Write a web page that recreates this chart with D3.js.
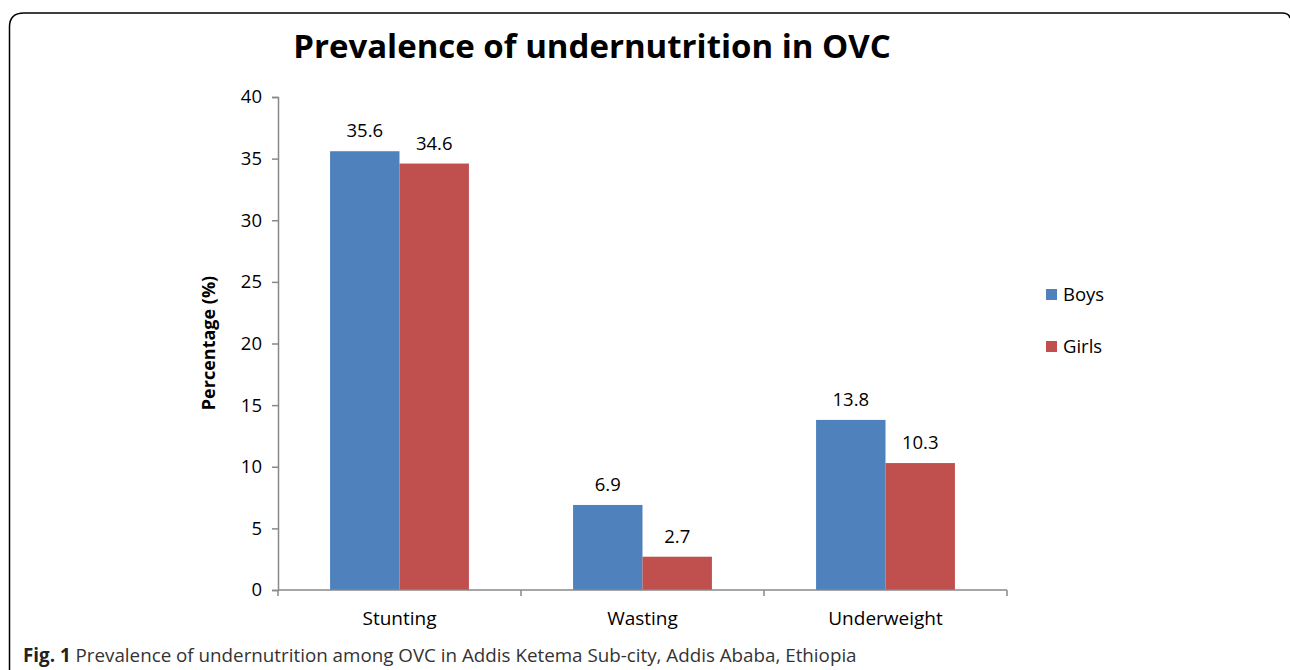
<!DOCTYPE html>
<html>
<head>
<meta charset="utf-8">
<script src="https://cdn.jsdelivr.net/npm/d3@7"></script>
<style>
  body { margin: 0; background: #fff; }
  svg { display: block; }
  text { font-family: "Open Sans", "Noto Sans", sans-serif; fill: #000; }
</style>
</head>
<body>
<svg id="chart" width="1290" height="670"></svg>
<script>
// chart data
const categories = ["Stunting", "Wasting", "Underweight"];
const seriesNames = ["Boys", "Girls"];
const boysValues = [35.6, 6.9, 13.8];
const girlsValues = [34.6, 2.7, 10.3];
const yTicks = [0, 5, 10, 15, 20, 25, 30, 35, 40];

const colors = { Boys: "#4f81bd", Girls: "#c0504d" };

const svg = d3.select("#chart");

// frame around the figure
svg.append("path")
    .attr("d", "M9.5,670 L9.5,27 Q9.5,13 24,13 L1282,13 Q1289,13 1290,18")
    .attr("fill", "none")
    .attr("stroke", "#000")
    .attr("stroke-width", 1.5);

const margin = { left: 278, top: 97, right: 1007, bottom: 590 };

const x = d3.scaleBand()
    .domain(categories)
    .range([margin.left, margin.right]);

const xInner = d3.scaleBand()
    .domain(seriesNames)
    .range([0, x.bandwidth()])
    .paddingInner(0)
    .paddingOuter(0.75);

const y = d3.scaleLinear()
    .domain([0, 40])
    .range([margin.bottom, margin.top]);

// title
svg.append("text")
    .attr("x", 592)
    .attr("y", 58)
    .attr("text-anchor", "middle")
    .style("font-size", "33px")
    .style("font-weight", "bold")
    .text("Prevalence of undernutrition in OVC");

// bars
const rows = categories.map((c, i) => ({ cat: c, Boys: boysValues[i], Girls: girlsValues[i] }));

const groups = svg.selectAll("g.cat")
    .data(rows)
    .enter()
    .append("g")
    .attr("class", "cat")
    .attr("transform", d => `translate(${x(d.cat)},0)`);

groups.selectAll("rect")
    .data(d => seriesNames.map(s => ({ s: s, v: d[s] })))
    .enter()
    .append("rect")
    .attr("x", d => xInner(d.s))
    .attr("y", d => y(d.v))
    .attr("width", xInner.bandwidth())
    .attr("height", d => y(0) - y(d.v))
    .attr("fill", d => colors[d.s]);

groups.selectAll("text.val")
    .data(d => seriesNames.map(s => ({ s: s, v: d[s] })))
    .enter()
    .append("text")
    .attr("class", "val")
    .attr("x", d => xInner(d.s) + xInner.bandwidth() / 2)
    .attr("y", d => y(d.v) - 14)
    .attr("text-anchor", "middle")
    .style("font-size", "18.5px")
    .text(d => d.v.toFixed(1));

// y axis
const yAxis = svg.append("g")
    .attr("transform", `translate(${margin.left},0)`)
    .call(d3.axisLeft(y).tickValues(yTicks).tickSize(6).tickPadding(10));
yAxis.select(".domain").attr("stroke", "#888").attr("stroke-width", 1.5);
yAxis.selectAll(".tick line").attr("stroke", "#888").attr("stroke-width", 1.5);
yAxis.selectAll(".tick text")
    .style("font-family", "'Open Sans', 'Noto Sans', sans-serif")
    .style("font-size", "18.5px")
    .attr("fill", "#000");

// x axis with ticks at category boundaries
svg.append("line")
    .attr("x1", margin.left).attr("x2", margin.right)
    .attr("y1", y(0)).attr("y2", y(0))
    .attr("stroke", "#888").attr("stroke-width", 1.5);

svg.selectAll("line.xtick")
    .data([margin.left].concat(categories.map(c => x(c) + x.bandwidth())))
    .enter()
    .append("line")
    .attr("class", "xtick")
    .attr("x1", d => d).attr("x2", d => d)
    .attr("y1", y(0)).attr("y2", y(0) + 6)
    .attr("stroke", "#888").attr("stroke-width", 1.5);

svg.selectAll("text.xlab")
    .data(categories)
    .enter()
    .append("text")
    .attr("class", "xlab")
    .attr("x", d => x(d) + x.bandwidth() / 2)
    .attr("y", 625)
    .attr("text-anchor", "middle")
    .style("font-size", "19px")
    .text(d => d);

// y axis label
svg.append("text")
    .attr("transform", "translate(215,343) rotate(-90)")
    .attr("text-anchor", "middle")
    .style("font-size", "18px")
    .style("font-weight", "bold")
    .text("Percentage (%)");

// legend
const legend = svg.selectAll("g.legend")
    .data(seriesNames)
    .enter()
    .append("g")
    .attr("class", "legend")
    .attr("transform", (d, i) => `translate(1046,${289 + i * 52})`);

legend.append("rect")
    .attr("width", 11)
    .attr("height", 11)
    .attr("fill", d => colors[d]);

legend.append("text")
    .attr("x", 17)
    .attr("y", 12)
    .style("font-size", "18.5px")
    .text(d => d);

// caption
const caption = svg.append("text")
    .attr("x", 23)
    .attr("y", 662)
    .style("font-size", "18.8px");
caption.append("tspan")
    .style("font-weight", "bold")
    .attr("fill", "#222")
    .text("Fig. 1");
caption.append("tspan")
    .attr("fill", "#333")
    .text(" Prevalence of undernutrition among OVC in Addis Ketema Sub-city, Addis Ababa, Ethiopia");
</script>
</body>
</html>
